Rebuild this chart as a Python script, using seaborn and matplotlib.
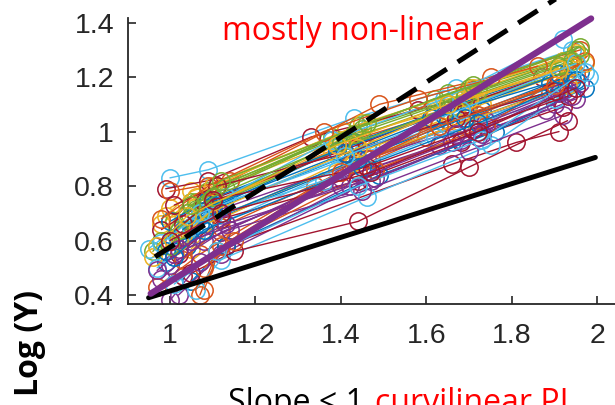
import matplotlib
matplotlib.use("Agg")
import matplotlib.pyplot as plt
import pandas as pd
import seaborn as sns

# MATLAB default colour order used for the individual series
colors = ["#0072BD", "#D95319", "#EDB120", "#7E2F8E", "#77AC30", "#4DBEEE", "#A2142F"]

# Per-series log(X) / log(Y) values, grouped by colour (one sub-list per series)
blue_x = [[0.99, 1.08, 1.42, 1.66, 1.91], [1.04, 1.11, 1.46, 1.73, 1.96], [1.02, 1.10, 1.43, 1.71, 1.94],
          [1.05, 1.13, 1.49, 1.76, 1.97], [1.00, 1.09, 1.39, 1.61, 1.89], [0.99, 1.07, 1.44, 1.69, 1.94],
          [1.03, 1.10, 1.41, 1.64, 1.91], [1.01, 1.08, 1.45, 1.72, 1.95]]
blue_y = [[0.52, 0.66, 0.88, 1.02, 1.16], [0.58, 0.72, 0.94, 1.08, 1.22], [0.62, 0.72, 0.96, 1.12, 1.24],
          [0.45, 0.58, 0.84, 1.00, 1.16], [0.67, 0.75, 0.93, 1.05, 1.18], [0.56, 0.66, 0.90, 1.05, 1.19],
          [0.64, 0.73, 0.92, 1.06, 1.21], [0.54, 0.64, 0.87, 1.03, 1.19]]

orange_x = [[1.01, 1.10, 1.45, 1.70, 1.93], [0.97, 1.07, 1.34, 1.60, 1.89], [1.00, 1.14, 1.49, 1.75, 1.96],
            [1.07, 1.11, 1.42, 1.65, 1.91], [1.03, 1.12, 1.47, 1.72, 1.95], [1.08, 1.15, 1.48, 1.74, 1.97],
            [0.98, 1.09, 1.36, 1.58, 1.86], [1.08, 1.12, 1.40, 1.63, 1.90]]
orange_y = [[0.60, 0.74, 0.98, 1.10, 1.22], [0.43, 0.55, 0.80, 0.98, 1.14], [0.78, 0.82, 1.10, 1.20, 1.30],
            [0.40, 0.56, 0.88, 1.04, 1.18], [0.53, 0.65, 0.90, 1.06, 1.21], [0.50, 0.60, 0.86, 1.02, 1.26],
            [0.68, 0.80, 1.00, 1.12, 1.24], [0.42, 0.58, 0.85, 1.02, 1.17]]

yellow_x = [[0.98, 1.06, 1.40, 1.64, 1.90], [0.99, 1.05, 1.41, 1.69, 1.92], [1.05, 1.12, 1.47, 1.73, 1.97],
            [1.03, 1.08, 1.38, 1.62, 1.90], [0.96, 1.05, 1.43, 1.68, 1.93], [1.00, 1.10, 1.45, 1.71, 1.95],
            [1.02, 1.09, 1.44, 1.70, 1.94], [0.97, 1.04, 1.39, 1.65, 1.91]]
yellow_y = [[0.66, 0.76, 0.97, 1.08, 1.20], [0.69, 0.78, 1.00, 1.14, 1.26], [0.57, 0.68, 0.94, 1.10, 1.25],
            [0.62, 0.72, 0.93, 1.06, 1.20], [0.54, 0.65, 0.89, 1.03, 1.17], [0.72, 0.80, 1.03, 1.16, 1.29],
            [0.60, 0.70, 0.94, 1.12, 1.24], [0.58, 0.69, 0.95, 1.10, 1.23]]

purple_x = [[1.02, 1.12, 1.47, 1.72, 1.95], [1.00, 1.12, 1.44, 1.68, 1.90], [0.98, 1.08, 1.40, 1.63, 1.88],
            [1.04, 1.11, 1.46, 1.74, 1.96], [1.01, 1.14, 1.45, 1.70, 1.92], [0.97, 1.05, 1.40, 1.66, 1.91],
            [1.00, 1.07, 1.42, 1.67, 1.93], [1.02, 1.13, 1.48, 1.73, 1.94]]
purple_y = [[0.40, 0.55, 0.82, 0.98, 1.12], [0.51, 0.63, 0.85, 0.97, 1.10], [0.46, 0.60, 0.83, 0.95, 1.08],
            [0.61, 0.71, 0.90, 1.04, 1.18], [0.55, 0.64, 0.78, 0.93, 1.06], [0.49, 0.60, 0.80, 0.96, 1.14],
            [0.38, 0.52, 0.80, 0.99, 1.15], [0.57, 0.66, 0.83, 0.99, 1.13]]

green_x = [[0.96, 1.05, 1.38, 1.62, 1.92], [1.06, 1.13, 1.37, 1.65, 1.95], [1.01, 1.09, 1.44, 1.70, 1.95],
           [0.98, 1.07, 1.42, 1.66, 1.93], [1.04, 1.11, 1.45, 1.72, 1.96], [1.00, 1.08, 1.43, 1.69, 1.94],
           [1.02, 1.10, 1.40, 1.65, 1.91], [1.05, 1.12, 1.46, 1.71, 1.96]]
green_y = [[0.56, 0.74, 0.98, 1.12, 1.26], [0.74, 0.79, 0.97, 1.14, 1.28], [0.67, 0.78, 1.02, 1.16, 1.30],
           [0.60, 0.71, 0.95, 1.09, 1.22], [0.70, 0.80, 1.01, 1.15, 1.28], [0.58, 0.72, 0.99, 1.13, 1.26],
           [0.64, 0.76, 0.96, 1.10, 1.24], [0.73, 0.82, 1.03, 1.17, 1.31]]

cyan_x = [[1.00, 1.09, 1.43, 1.67, 1.94], [0.95, 1.06, 1.45, 1.70, 1.93], [0.97, 1.06, 1.39, 1.67, 1.92],
          [1.06, 1.12, 1.46, 1.75, 1.98], [1.02, 1.10, 1.36, 1.62, 1.90], [1.05, 1.13, 1.38, 1.64, 1.92],
          [0.98, 1.07, 1.41, 1.68, 1.95], [1.01, 1.11, 1.44, 1.73, 1.97]]
cyan_y = [[0.83, 0.86, 1.05, 1.16, 1.30], [0.57, 0.70, 0.92, 1.06, 1.18], [0.50, 0.62, 0.86, 1.02, 1.15],
          [0.42, 0.53, 0.76, 0.95, 1.20], [0.60, 0.69, 0.82, 0.98, 1.12], [0.65, 0.76, 0.97, 1.12, 1.34],
          [0.59, 0.70, 0.91, 1.08, 1.25], [0.44, 0.56, 0.80, 0.97, 1.22]]

darkred_x = [[1.03, 1.13, 1.66, 1.81, 1.91], [0.99, 1.09, 1.33, 1.58, 1.87], [1.02, 1.12, 1.44, 1.68, 1.92],
             [0.98, 1.08, 1.42, 1.69, 1.94], [1.05, 1.15, 1.44, 1.70, 1.93], [1.01, 1.11, 1.41, 1.67, 1.90],
             [1.03, 1.10, 1.46, 1.71, 1.93], [1.00, 1.12, 1.47, 1.72, 1.95]]
darkred_y = [[0.47, 0.58, 0.88, 0.96, 1.00], [0.79, 0.82, 0.98, 1.08, 1.20], [0.55, 0.68, 0.82, 0.96, 1.09],
             [0.64, 0.74, 0.94, 1.10, 1.24], [0.48, 0.56, 0.67, 0.87, 1.04], [0.73, 0.80, 0.92, 1.05, 1.15],
             [0.66, 0.75, 0.87, 1.01, 1.13], [0.60, 0.70, 0.85, 1.00, 1.16]]

# Reference lines: slope < 1 bound, slope = 1 (dashed) and the pooled fit
bound_x, bound_y = [0.95, 1.995], [0.39, 0.905]
unit_x, unit_y = [0.965, 1.92], [0.54, 1.505]
fit_x, fit_y = [0.955, 1.985], [0.405, 1.415]

x_ticks = [1, 1.2, 1.4, 1.6, 1.8, 2]
x_ticklabels = ["1", "1.2", "1.4", "1.6", "1.8", "2"]
y_ticks = [0.4, 0.6, 0.8, 1.0, 1.2, 1.4]
y_ticklabels = ["0.4", "0.6", "0.8", "1", "1.2", "1.4"]

sns.set_style("ticks")
plt.rcParams["font.family"] = ["Liberation Sans", "DejaVu Sans"]
note_font = ["Open Sans", "DejaVu Sans"]

# Long table, series interleaved in colour-cycle order
groups = [(blue_x, blue_y), (orange_x, orange_y), (yellow_x, yellow_y), (purple_x, purple_y),
          (green_x, green_y), (cyan_x, cyan_y), (darkred_x, darkred_y)]
rows, palette, order = [], {}, []
for k in range(len(blue_x)):
    for c, (gx, gy) in enumerate(groups):
        name = f"s{k}_{c}"
        order.append(name)
        palette[name] = colors[c]
        for i, (xv, yv) in enumerate(zip(gx[k], gy[k])):
            rows.append({"series": name, "idx": i, "x": xv, "y": yv})
df = pd.DataFrame(rows)

fig = plt.figure(figsize=(6.15, 4.05), dpi=100)
ax = fig.add_axes([128 / 615, 1 - 304 / 405, (615 - 128) / 615, (304 - 18) / 405])

sns.lineplot(data=df, x="x", y="y", hue="series", hue_order=order, palette=palette,
             estimator=None, sort=False, marker="o", markersize=12.5, mfc="none",
             mew=1.1, lw=1.0, legend=False, ax=ax)
for ln in ax.lines:
    ln.set_markeredgecolor(ln.get_color())

sns.lineplot(x=unit_x, y=unit_y, color="black", lw=3.6, ax=ax)
ax.lines[-1].set_dashes((4.6, 2.6))
ax.lines[-1].set_clip_on(False)
sns.lineplot(x=bound_x, y=bound_y, color="black", lw=3.6, ax=ax)
sns.lineplot(x=fit_x, y=fit_y, color="#7E2F8E", lw=4.6, ax=ax)
ax.lines[-1].set_clip_on(False)

ax.set_xlim(0.9018, 2.041)
ax.set_ylim(0.3669, 1.417)
ax.set_xticks(x_ticks)
ax.set_xticklabels(x_ticklabels)
ax.set_yticks(y_ticks)
ax.set_yticklabels(y_ticklabels)
ax.set_xlabel("")
ax.set_ylabel("")
for s in ["top", "right"]:
    ax.spines[s].set_visible(False)
for s in ["left", "bottom"]:
    ax.spines[s].set_linewidth(1.3)
    ax.spines[s].set_color("#262626")
ax.tick_params(direction="in", length=6, width=1.2, color="#262626",
               labelcolor="#262626", labelsize=20.5)
ax.tick_params(axis="x", pad=14)
ax.tick_params(axis="y", pad=10)

fig.text(222 / 615, 1 - 40 / 405, "mostly non-linear", color="red", fontsize=23,
         family=note_font, ha="left", va="baseline")
t1 = fig.text(228 / 615, 1 - 412 / 405, "Slope < 1 ", color="black", fontsize=23,
              family=note_font, ha="left", va="baseline")
fig.text(375 / 615, 1 - 412 / 405, "curvilinear PL", color="red", fontsize=23,
         family=note_font, ha="left", va="baseline")
fig.text(29 / 615, 1 - 343 / 405, "Log (Y)", color="black", fontsize=23, fontweight="bold",
         family=note_font, rotation=90, ha="center", va="center")

fig.savefig("out.png", dpi=100)
